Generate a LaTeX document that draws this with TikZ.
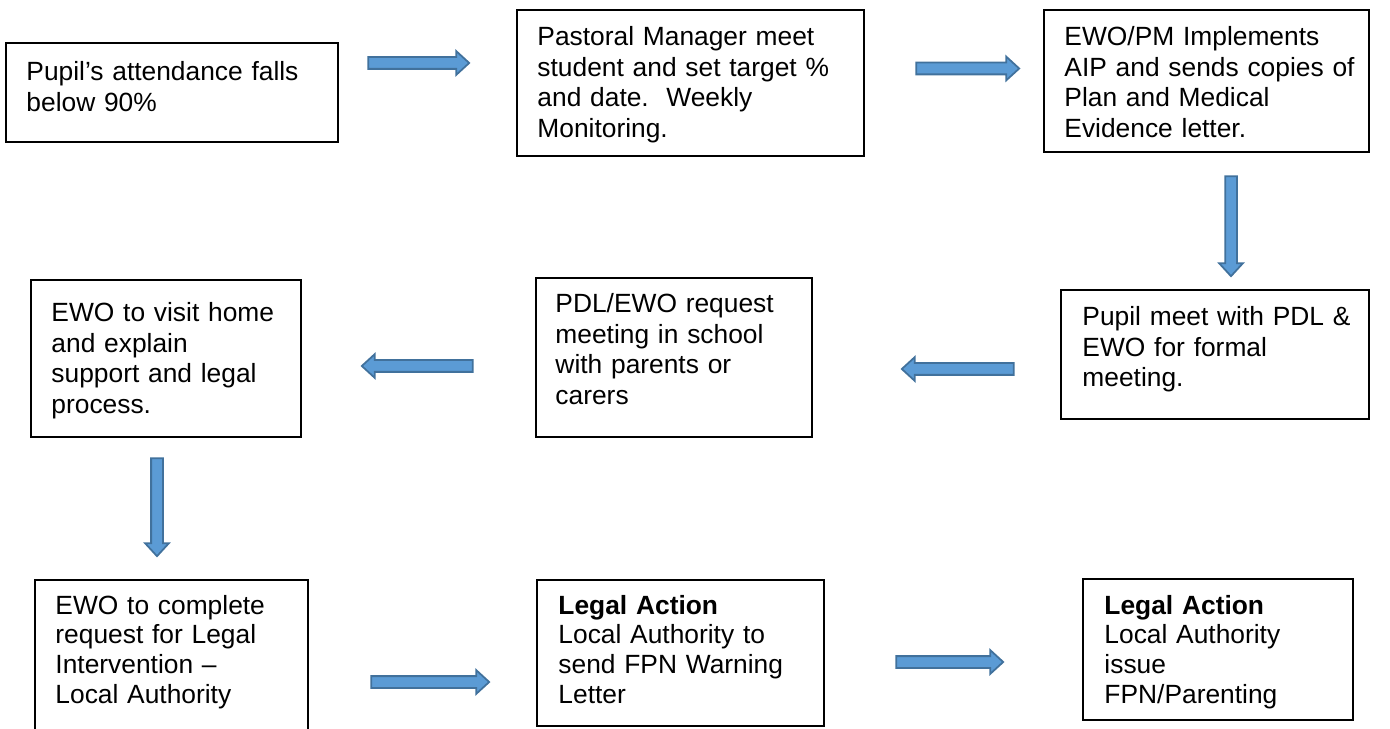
\documentclass[tikz,border=0pt]{standalone}
\usepackage{fontspec}
\setmainfont{Liberation Sans}
\usetikzlibrary{fit,shapes.arrows}

\definecolor{arrowfill}{RGB}{91,155,213}
\definecolor{arrowline}{RGB}{65,113,156}

\tikzset{
  stepbox/.style={draw, line width=1pt, inner sep=0pt},
  steptext/.style={anchor=base west, inner sep=0pt, text width=8cm, align=left,
    font=\fontsize{15}{17.6}\selectfont\frenchspacing},
  lowtext/.style={steptext, font=\fontsize{15}{16.9}\selectfont\frenchspacing},
  blockarrow/.style={single arrow, draw=arrowline, fill=arrowfill, line width=1pt,
    inner sep=0.1cm, single arrow head extend=0.12cm, single arrow tip angle=85,
    minimum height=#1},
}

\begin{document}
\begin{tikzpicture}[x=0.02cm, y=-0.02cm]
    \useasboundingbox (0,0) rectangle (1390,729);
    \clip (0,0) rectangle (1390,729);

    % Top row
    \node[stepbox, fit={(6,43) (338,142)}] (pupil) {};
    \node[steptext] (pupiltxt) at ([shift={(21,38.5)}]pupil.north west)
        {Pupil’s attendance falls\\below 90\%};

    \node[stepbox, fit={(517,10) (864,156)}] (pastoral) {};
    \node[steptext] (pastoraltxt) at ([shift={(21,36)}]pastoral.north west)
        {Pastoral Manager meet\\student and set target \%\\and date.\ \ Weekly\\Monitoring.};

    \node[stepbox, fit={(1044,10) (1369,152)}] (aip) {};
    \node[steptext] (aiptxt) at ([shift={(21,36)}]aip.north west)
        {EWO/PM Implements\\AIP and sends copies of\\Plan and Medical\\Evidence letter.};

    \node[blockarrow=2.02cm] (arr1) at (415.5,63) {};
    \node[blockarrow=2.06cm] (arr2) at (964.5,68.5) {};
    \node[blockarrow=2cm, rotate=-90] (arr3) at (1231,223) {};

    % Middle row
    \node[stepbox, fit={(1061,290) (1369,419)}] (formal) {};
    \node[steptext] (formaltxt) at ([shift={(22,36)}]formal.north west)
        {Pupil meet with PDL \&\\EWO for formal\\meeting.};

    \node[stepbox, fit={(536,278) (812,437)}] (parents) {};
    \node[steptext] (parentstxt) at ([shift={(20,35)}]parents.north west)
        {PDL/EWO request\\meeting in school\\with parents or\\carers};

    \node[stepbox, fit={(31,280) (301,437)}] (visit) {};
    \node[steptext] (visittxt) at ([shift={(21,42)}]visit.north west)
        {EWO to visit home\\and explain\\support and legal\\process.};

    \node[blockarrow=2.24cm, rotate=180] (arr4) at (961,369) {};
    \node[blockarrow=2.22cm, rotate=180] (arr5) at (420.5,366) {};
    \node[blockarrow=1.96cm, rotate=-90] (arr6) at (157,504) {};

    % Bottom row
    \node[stepbox, fit={(35,580) (308,760)}] (legal) {};
    \node[lowtext] (legaltxt) at ([shift={(21,35)}]legal.north west)
        {EWO to complete\\request for Legal\\Intervention --\\Local Authority};

    \node[stepbox, fit={(537,580) (824,726)}] (warning) {};
    \node[lowtext] (warningtxt) at ([shift={(22,35)}]warning.north west)
        {\textbf{Legal Action}\\Local Authority to\\send FPN Warning\\Letter};

    \node[stepbox, fit={(1083,579) (1353,720)}] (issue) {};
    \begin{scope}
        \clip (1083,579) rectangle (1353,708);
        \node[lowtext] (issuetxt) at ([shift={(22,36)}]issue.north west)
            {\textbf{Legal Action}\\Local Authority\\issue\\FPN/Parenting};
    \end{scope}

    \node[blockarrow=2.36cm] (arr7) at (427,682) {};
    \node[blockarrow=2.14cm] (arr8) at (946.5,662) {};
\end{tikzpicture}
\end{document}
